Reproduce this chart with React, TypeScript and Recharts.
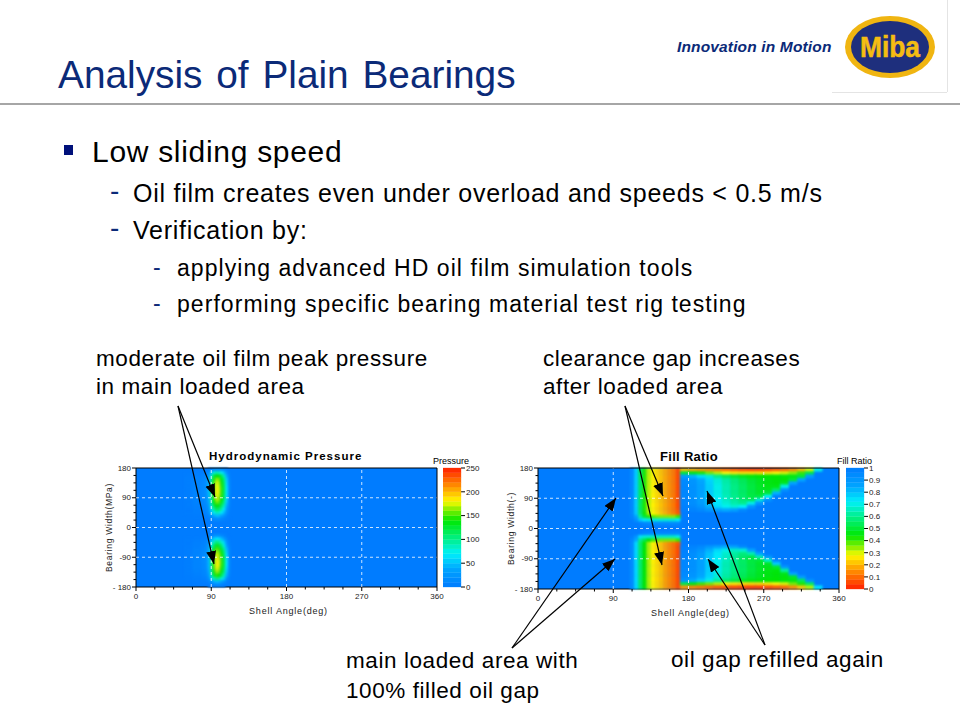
import React from 'react';
import { ScatterChart, Scatter, XAxis, YAxis, CartesianGrid, ReferenceLine } from 'recharts';

// bearing maps. cell edges are degrees of shell angle, rows are band centres of width.
const angleTicks = [0, 22.5, 45, 67.5, 90, 112.5, 135, 157.5, 180, 202.5, 225, 247.5, 270, 292.5, 315, 337.5, 360];
const widthTicks = [-180, -157.5, -135, -112.5, -90, -67.5, -45, -22.5, 0, 22.5, 45, 67.5, 90, 112.5, 135, 157.5, 180];
const gridAngles = [90, 180, 270];
const gridWidths = [-90, 0, 90];

const pressureEdges = [58, 68, 78, 83, 86, 89, 92, 95, 98, 101, 104, 107, 110, 113, 116];
const pressureRows = [175, 165, 155, 145, 135, 125, 115, 105, 95, 85, 75, 65, 55, 45, 35, 25, -25, -35, -45, -55, -65, -75, -85, -95, -105, -115, -125, -135, -145, -155, -165, -175];
const pressureValues = [
  [0, 0, 0, 0, 3, 10, 18, 22, 20, 16, 10, 4, 0, 0],
  [1, 2, 3, 6, 20, 52, 80, 90, 86, 72, 52, 24, 4, 0],
  [2, 4, 7, 13, 32, 84, 125, 140, 136, 115, 88, 44, 8, 0],
  [3, 6, 10, 17, 40, 98, 145, 165, 158, 135, 105, 56, 12, 0],
  [3, 7, 12, 21, 44, 106, 152, 175, 168, 142, 112, 62, 14, 0],
  [3, 8, 13, 22, 46, 110, 156, 180, 172, 146, 116, 66, 15, 0],
  [3, 8, 14, 23, 48, 112, 158, 182, 174, 148, 118, 68, 16, 0],
  [3, 8, 14, 23, 48, 112, 158, 182, 174, 148, 118, 68, 16, 0],
  [3, 8, 14, 23, 46, 108, 154, 178, 170, 146, 116, 66, 15, 0],
  [3, 7, 13, 21, 44, 102, 148, 170, 164, 140, 110, 62, 14, 0],
  [2, 6, 11, 18, 40, 94, 138, 158, 152, 130, 100, 54, 12, 0],
  [2, 5, 9, 15, 34, 82, 122, 140, 134, 114, 86, 44, 9, 0],
  [1, 4, 7, 11, 26, 66, 100, 116, 112, 94, 68, 32, 6, 0],
  [1, 3, 5, 8, 20, 48, 74, 88, 84, 68, 48, 22, 4, 0],
  [0, 1, 3, 5, 10, 26, 42, 50, 48, 38, 24, 10, 1, 0],
  [0, 0, 1, 2, 3, 8, 12, 15, 14, 10, 5, 2, 0, 0],
  [0, 0, 1, 2, 4, 10, 17, 22, 20, 14, 7, 2, 0, 0],
  [1, 2, 3, 6, 14, 38, 58, 68, 64, 50, 32, 13, 1, 0],
  [1, 4, 6, 10, 24, 60, 90, 104, 100, 82, 58, 26, 4, 0],
  [2, 5, 8, 14, 32, 76, 114, 132, 126, 106, 78, 38, 7, 0],
  [2, 6, 10, 17, 38, 90, 132, 152, 146, 124, 94, 50, 11, 0],
  [3, 7, 12, 19, 42, 100, 146, 168, 160, 136, 106, 58, 13, 0],
  [3, 8, 13, 21, 46, 106, 152, 176, 168, 144, 114, 64, 15, 0],
  [3, 8, 14, 22, 48, 110, 156, 180, 172, 148, 118, 68, 16, 0],
  [3, 8, 14, 22, 48, 112, 158, 184, 176, 150, 120, 70, 16, 0],
  [3, 8, 13, 21, 46, 110, 156, 182, 174, 148, 118, 68, 15, 0],
  [3, 7, 12, 20, 44, 106, 152, 176, 168, 144, 112, 62, 14, 0],
  [3, 6, 10, 16, 40, 98, 144, 166, 158, 134, 104, 56, 12, 0],
  [2, 4, 8, 13, 32, 86, 128, 148, 140, 116, 88, 44, 9, 0],
  [1, 3, 5, 8, 20, 56, 88, 104, 98, 80, 56, 24, 4, 0],
  [0, 1, 2, 3, 8, 24, 40, 48, 44, 34, 20, 7, 1, 0],
  [0, 0, 0, 0, 1, 4, 8, 10, 9, 6, 2, 0, 0, 0],
];

const loadedEdges = [110, 115, 120, 125, 130, 135, 140, 145, 150, 155, 160, 165, 170];
const loadedRows = [175, 165, 155, 145, 135, 125, 115, 105, 95, 85, 75, 65, 55, 45, 35, 25, 15, -15, -25, -35, -45, -55, -65, -75, -85, -95, -105, -115, -125, -135, -145, -155, -165, -175];
const loadedValues = [
  [95, 78, 55, 42, 32, 27, 24, 21, 18, 15, 12, 6],
  [95, 78, 55, 42, 32, 27, 24, 21, 18, 15, 12, 6],
  [95, 78, 55, 42, 32, 27, 24, 21, 18, 15, 12, 6],
  [95, 78, 55, 42, 32, 27, 24, 21, 18, 15, 12, 6],
  [95, 78, 55, 42, 32, 27, 24, 21, 18, 15, 12, 6],
  [95, 78, 55, 42, 32, 27, 24, 21, 18, 15, 12, 6],
  [95, 78, 55, 42, 32, 27, 24, 21, 18, 15, 12, 6],
  [95, 78, 55, 42, 32, 27, 24, 21, 18, 15, 12, 6],
  [95, 78, 55, 42, 32, 27, 24, 21, 18, 15, 12, 6],
  [95, 78, 55, 42, 32, 27, 24, 21, 18, 15, 12, 6],
  [95, 78, 55, 42, 32, 27, 24, 21, 18, 15, 12, 6],
  [95, 78, 55, 42, 32, 27, 24, 21, 18, 15, 12, 6],
  [95, 78, 55, 42, 32, 27, 24, 21, 18, 15, 12, 7],
  [95, 79, 56, 43, 33, 28, 25, 22, 19, 16, 13, 8],
  [96, 85, 62, 50, 42, 38, 36, 35, 35, 35, 35, 40],
  [99, 92, 78, 72, 70, 68, 68, 68, 68, 68, 68, 72],
  [100, 100, 98, 96, 95, 95, 95, 95, 95, 95, 95, 95],
  [100, 100, 98, 96, 95, 95, 95, 95, 95, 95, 95, 95],
  [98, 90, 74, 68, 68, 66, 66, 66, 66, 66, 66, 70],
  [95, 84, 60, 52, 44, 40, 38, 36, 36, 36, 36, 40],
  [94, 76, 56, 44, 33, 27, 24, 21, 17, 14, 11, 7],
  [94, 76, 56, 44, 33, 27, 24, 21, 17, 14, 11, 6],
  [94, 76, 56, 44, 33, 27, 24, 21, 17, 14, 11, 6],
  [94, 76, 56, 44, 33, 27, 24, 21, 17, 14, 11, 6],
  [94, 76, 56, 44, 33, 27, 24, 21, 17, 14, 11, 6],
  [94, 76, 56, 44, 33, 27, 24, 21, 17, 14, 11, 6],
  [94, 76, 56, 44, 33, 27, 24, 21, 17, 14, 11, 6],
  [94, 76, 56, 44, 33, 27, 24, 21, 17, 14, 11, 6],
  [94, 76, 56, 44, 33, 27, 24, 21, 17, 14, 11, 6],
  [94, 76, 56, 44, 33, 27, 24, 21, 17, 14, 11, 6],
  [94, 76, 56, 44, 33, 27, 24, 21, 17, 14, 11, 6],
  [94, 76, 56, 44, 33, 27, 24, 21, 17, 14, 11, 6],
  [94, 76, 56, 44, 33, 27, 24, 21, 17, 14, 11, 6],
  [94, 76, 56, 44, 33, 27, 24, 21, 17, 14, 11, 6],
];

const refillEdges = [170, 180, 190, 200, 210, 220, 230, 240, 250, 260, 270, 280, 290, 300, 310, 320, 330, 340];
const refillRows = [175, 165, 155, 145, 135, 125, 115, 105, 95, 85, 75, 65, 55, -55, -65, -75, -85, -95, -105, -115, -125, -135, -145, -155, -165, -175];
const refillValues = [
  [20, 18, 16, 14, 12, 10, 8, 6, 5, 5, 6, 8, 10, 14, 20, 30, 70],
  [50, 46, 42, 36, 32, 28, 26, 25, 25, 25, 26, 28, 30, 34, 40, 52, 100],
  [88, 82, 75, 68, 60, 54, 50, 47, 45, 44, 44, 44, 45, 46, 50, 88, 100],
  [94, 90, 84, 76, 68, 62, 57, 53, 49, 47, 45, 44, 44, 50, 85, 100, 100],
  [95, 91, 85, 77, 69, 63, 58, 54, 50, 47, 45, 44, 47, 85, 100, 100, 100],
  [96, 92, 86, 78, 70, 64, 59, 55, 51, 48, 46, 46, 70, 100, 100, 100, 100],
  [96, 92, 86, 78, 70, 64, 59, 55, 51, 48, 47, 55, 92, 100, 100, 100, 100],
  [96, 92, 86, 78, 70, 64, 59, 55, 51, 48, 50, 82, 100, 100, 100, 100, 100],
  [96, 92, 86, 78, 71, 65, 60, 56, 52, 52, 72, 98, 100, 100, 100, 100, 100],
  [97, 93, 87, 79, 72, 66, 61, 57, 54, 68, 92, 100, 100, 100, 100, 100, 100],
  [97, 93, 88, 80, 73, 68, 63, 60, 70, 90, 100, 100, 100, 100, 100, 100, 100],
  [98, 95, 91, 83, 76, 71, 68, 72, 90, 100, 100, 100, 100, 100, 100, 100, 100],
  [99, 97, 95, 90, 86, 84, 86, 95, 100, 100, 100, 100, 100, 100, 100, 100, 100],
  [99, 97, 95, 90, 86, 84, 86, 95, 100, 100, 100, 100, 100, 100, 100, 100, 100],
  [98, 95, 91, 83, 76, 70, 66, 68, 86, 100, 100, 100, 100, 100, 100, 100, 100],
  [97, 93, 88, 80, 73, 67, 62, 58, 64, 86, 100, 100, 100, 100, 100, 100, 100],
  [97, 93, 87, 79, 72, 66, 61, 56, 52, 64, 90, 100, 100, 100, 100, 100, 100],
  [96, 92, 86, 78, 71, 65, 60, 55, 51, 50, 66, 96, 100, 100, 100, 100, 100],
  [96, 92, 86, 78, 70, 64, 59, 55, 51, 48, 48, 78, 100, 100, 100, 100, 100],
  [96, 92, 86, 78, 70, 64, 59, 55, 51, 48, 46, 50, 90, 100, 100, 100, 100],
  [96, 92, 86, 78, 70, 64, 59, 55, 51, 48, 46, 45, 62, 100, 100, 100, 100],
  [95, 91, 85, 77, 69, 63, 58, 54, 50, 47, 45, 44, 46, 85, 100, 100, 100],
  [94, 90, 84, 76, 68, 62, 57, 53, 49, 47, 45, 44, 44, 48, 88, 100, 100],
  [90, 84, 78, 70, 62, 56, 52, 48, 46, 45, 44, 44, 45, 46, 54, 92, 100],
  [52, 46, 40, 36, 32, 28, 26, 25, 24, 24, 26, 28, 30, 36, 42, 55, 100],
  [16, 14, 12, 10, 8, 7, 6, 5, 4, 4, 6, 8, 10, 15, 22, 32, 74],
];

const pressureLevels = [5, 15, 25, 35, 45, 55, 65, 75, 85, 95, 105, 115, 125, 135, 145, 155, 165, 175, 185, 195, 205, 215, 225, 235, 245];
const pressureTicks = [0, 50, 100, 150, 200, 250];
const fillLevels = [0.02, 0.06, 0.1, 0.14, 0.18, 0.22, 0.26, 0.3, 0.34, 0.38, 0.42, 0.46, 0.5, 0.54, 0.58, 0.62, 0.66, 0.7, 0.74, 0.78, 0.82, 0.86, 0.9, 0.94, 0.98];
const fillTicks = [0, 0.1, 0.2, 0.3, 0.4, 0.5, 0.6, 0.7, 0.8, 0.9, 1];

const colorStops: [number, number[]][] = [
  [0, [0, 124, 255]],
  [0.15, [0, 165, 255]],
  [0.28, [0, 240, 250]],
  [0.4, [0, 240, 140]],
  [0.56, [0, 232, 0]],
  [0.66, [150, 240, 0]],
  [0.72, [255, 250, 0]],
  [0.84, [255, 150, 0]],
  [1, [255, 30, 0]],
];

const heatColor = (t: number) => {
  const v = Math.min(1, Math.max(0, t));
  for (let i = 1; i < colorStops.length; i++) {
    const [t0, c0] = colorStops[i - 1];
    const [t1, c1] = colorStops[i];
    if (v <= t1) {
      const f = (v - t0) / (t1 - t0);
      return `rgb(${c0.map((c, k) => Math.round(c + (c1[k] - c) * f)).join(',')})`;
    }
  }
  return 'rgb(255,30,0)';
};

const toCells = (edges: number[], rows: number[], values: number[][], skip: number) =>
  rows.flatMap((lat, r) =>
    values[r].flatMap((value, c) =>
      value === skip
        ? []
        : [{ angle: (edges[c] + edges[c + 1]) / 2, lat, value, span: edges[c + 1] - edges[c] }]
    )
  );

const pressureCells = toCells(pressureEdges, pressureRows, pressureValues, 0);
const fillCells = [
  ...toCells(loadedEdges, loadedRows, loadedValues, 100),
  ...toCells(refillEdges, refillRows, refillValues, 100),
];

const FONT = '"Liberation Sans", Arial, sans-serif';
const NAVY = '#0b2a78';

const AngleTick = ({ x, y, payload }: any) => {
  const major = payload.value % 90 === 0;
  return (
    <g>
      <line x1={x} x2={x} y1={y} y2={y + (major ? 4 : 2.5)} stroke="#000" />
      {major && (
        <text x={x} y={y + 12} textAnchor="middle" fontSize={8} fontFamily={FONT} fill="#222">
          {payload.value}
        </text>
      )}
    </g>
  );
};

const WidthTick = ({ x, y, payload }: any) => {
  const major = payload.value % 90 === 0;
  const label = payload.value === -180 ? '- 180' : String(payload.value);
  return (
    <g>
      <line x1={x} x2={x - (major ? 4 : 2.5)} y1={y} y2={y} stroke="#000" />
      {major && (
        <text x={x - 5} y={y + 2.5} textAnchor="end" fontSize={8} fontFamily={FONT} fill="#222">
          {label}
        </text>
      )}
    </g>
  );
};

type MapProps = {
  left: number; top: number; plotW: number; plotH: number;
  cells: { angle: number; lat: number; value: number; span: number }[];
  toT: (v: number) => number;
  yLabel: string;
};

const BearingMap = ({ left, top, plotW, plotH, cells, toT, yLabel }: MapProps) => {
  const sx = plotW / 360;
  const sy = plotH / 360;
  return (
    <div style={{ position: 'absolute', left: left - 46, top: top - 18 }}>
      <ScatterChart
        width={plotW + 60}
        height={plotH + 60}
        margin={{ top: 18, right: 14, bottom: 12, left: 10 }}
      >
        <CartesianGrid fill="#007cff" stroke="none" />
        <XAxis
          type="number"
          dataKey="angle"
          domain={[0, 360]}
          ticks={angleTicks}
          interval={0}
          height={30}
          tickSize={0}
          tickMargin={0}
          tickLine={false}
          tick={<AngleTick />}
          stroke="#000"
          label={{ value: 'Shell Angle(deg)', position: 'insideBottom', offset: 3, dx: 2, fontSize: 9, letterSpacing: 0.8, fontFamily: FONT, fill: '#222' }}
        />
        <YAxis
          type="number"
          dataKey="lat"
          domain={[-180, 180]}
          ticks={widthTicks}
          interval={0}
          width={36}
          tickSize={0}
          tickMargin={0}
          tickLine={false}
          tick={<WidthTick />}
          stroke="#000"
          label={{ value: yLabel, angle: -90, position: 'insideLeft', offset: 9, textAnchor: 'middle', fontSize: 8.5, letterSpacing: 0.7, fontFamily: FONT, fill: '#222' }}
        />
        <Scatter
          data={cells}
          isAnimationActive={false}
          className="heat-cells"
          shape={(p: any) => {
            const w = p.payload.span * sx;
            const h = 10 * sy;
            const color = heatColor(toT(p.payload.value));
            return <rect x={p.cx - w / 2} y={p.cy - h / 2} width={w} height={h} fill={color} stroke={color} strokeWidth={0.3} />;
          }}
        />
        {gridAngles.map((a) => (
          <ReferenceLine key={a} x={a} stroke="#fff" strokeDasharray="3 3" strokeWidth={0.8} zIndex={700} />
        ))}
        {gridWidths.map((w) => (
          <ReferenceLine key={w} y={w} stroke="#fff" strokeDasharray="3 3" strokeWidth={0.8} zIndex={700} />
        ))}
        <ReferenceLine y={180} stroke="#000" zIndex={700} />
        <ReferenceLine x={360} stroke="#000" zIndex={700} />
      </ScatterChart>
    </div>
  );
};

type BarProps = {
  left: number; top: number; barW: number; plotH: number;
  levels: number[]; ticks: number[]; domain: [number, number];
  toT: (v: number) => number;
};

const ScaleBar = ({ left, top, barW, plotH, levels, ticks, domain, toT }: BarProps) => {
  const cellH = plotH / levels.length;
  const data = levels.map((level) => ({ pos: 0.5, level }));
  return (
    <div style={{ position: 'absolute', left, top: top - 6 }}>
      <ScatterChart width={barW + 34} height={plotH + 12} margin={{ top: 6, right: 0, bottom: 6, left: 0 }}>
        <XAxis type="number" dataKey="pos" domain={[0, 1]} hide />
        <YAxis
          type="number"
          dataKey="level"
          orientation="right"
          domain={domain}
          ticks={ticks}
          interval={0}
          width={34}
          axisLine={false}
          tickSize={4}
          tickMargin={1}
          tickLine={{ stroke: '#000' }}
          tick={{ fontSize: 8, fontFamily: FONT, fill: '#222' }}
        />
        <Scatter
          data={data}
          isAnimationActive={false}
          shape={(p: any) => {
            const color = heatColor(toT(p.payload.level));
            return <rect x={p.cx - barW / 2} y={p.cy - cellH / 2} width={barW} height={cellH} fill={color} stroke={color} strokeWidth={0.3} />;
          }}
        />
      </ScatterChart>
    </div>
  );
};

const Txt = ({ x, y, size, children, style }: any) => (
  <div
    style={{
      position: 'absolute', left: x, top: y - size * 0.6, fontSize: size, lineHeight: `${size * 1.2}px`,
      fontFamily: FONT, color: '#000', whiteSpace: 'nowrap', ...style,
    }}
  >
    {children}
  </div>
);

const arrows = [
  [178, 406, 215, 497],
  [178, 406, 214, 564],
  [625, 406, 663, 496],
  [625, 406, 662, 565],
  [512, 648, 616, 498],
  [512, 648, 615, 559],
  [765, 645, 707, 491],
  [765, 645, 708, 559],
];

export default function App() {
  return (
    <div style={{ position: 'absolute', left: 0, top: 0, width: 960, height: 720, background: '#fff', overflow: 'hidden' }}>
      <style>{'.heat-cells{filter:blur(0.9px)}'}</style>

      <Txt x={58} y={75} size={38.8} style={{ color: NAVY, wordSpacing: 3 }}>Analysis of Plain Bearings</Txt>
      <div style={{ position: 'absolute', left: 0, top: 103, width: 960, height: 2, background: '#a6a6a6' }} />
      <div style={{ position: 'absolute', left: 947, top: 0, width: 1, height: 92, background: '#e4e4e4' }} />
      <div style={{ position: 'absolute', left: 832, top: 92, width: 115, height: 1, background: '#e4e4e4' }} />
      <Txt x={677} y={47} size={15.5} style={{ color: NAVY, fontWeight: 700, fontStyle: 'italic', letterSpacing: 0.15 }}>Innovation in Motion</Txt>
      <svg width={110} height={80} style={{ position: 'absolute', left: 835, top: 7 }}>
        <ellipse cx={55} cy={40} rx={45} ry={31} fill="#f0b511" />
        <ellipse cx={55} cy={40} rx={39} ry={26} fill="#1e2f7d" />
        <text x={55} y={50} textAnchor="middle" fontSize={29} fontWeight={700} fontFamily={FONT} fill="#f5bd12" stroke="#f5bd12" strokeWidth={0.5} textLength={60} lengthAdjust="spacingAndGlyphs">
          Miba
        </text>
      </svg>

      <div style={{ position: 'absolute', left: 64, top: 145, width: 9, height: 10, background: '#00107a' }} />
      <Txt x={92} y={152} size={30} style={{ letterSpacing: 0.7 }}>Low sliding speed</Txt>
      <Txt x={110} y={191} size={28} style={{ color: NAVY }}>-</Txt>
      <Txt x={133} y={193} size={25} style={{ letterSpacing: 0.75 }}>Oil film creates even under overload and speeds &lt; 0.5 m/s</Txt>
      <Txt x={110} y={228} size={28} style={{ color: NAVY }}>-</Txt>
      <Txt x={133} y={230} size={25} style={{ letterSpacing: 0.75 }}>Verification by:</Txt>
      <Txt x={153} y={268} size={23} style={{ color: NAVY }}>-</Txt>
      <Txt x={177} y={269} size={23} style={{ letterSpacing: 1.05 }}>applying advanced HD oil film simulation tools</Txt>
      <Txt x={153} y={304} size={23} style={{ color: NAVY }}>-</Txt>
      <Txt x={177} y={305} size={23} style={{ letterSpacing: 1.05 }}>performing specific bearing material test rig testing</Txt>

      <Txt x={96} y={358} size={22.5} style={{ letterSpacing: 0.58 }}>moderate oil film peak pressure</Txt>
      <Txt x={96} y={386} size={22.5} style={{ letterSpacing: 0.58 }}>in main loaded area</Txt>
      <Txt x={543} y={358} size={22.5} style={{ letterSpacing: 0.58 }}>clearance gap increases</Txt>
      <Txt x={543} y={386} size={22.5} style={{ letterSpacing: 0.58 }}>after loaded area</Txt>
      <Txt x={346} y={660} size={22.5} style={{ letterSpacing: 0.58 }}>main loaded area with</Txt>
      <Txt x={346} y={690} size={22.5} style={{ letterSpacing: 0.58 }}>100% filled oil gap</Txt>
      <Txt x={671} y={659} size={22.5} style={{ letterSpacing: 0.58 }}>oil gap refilled again</Txt>

      <Txt x={209} y={457} size={11.5} style={{ fontWeight: 700, letterSpacing: 1 }}>Hydrodynamic Pressure</Txt>
      <Txt x={660} y={457} size={13} style={{ fontWeight: 700, letterSpacing: 0.3 }}>Fill Ratio</Txt>
      <Txt x={433} y={461} size={9}>Pressure</Txt>
      <Txt x={837} y={461} size={9}>Fill Ratio</Txt>

      <BearingMap left={136} top={468} plotW={301} plotH={119} cells={pressureCells} toT={(v) => v / 250} yLabel="Bearing Width(MPa)" />
      <BearingMap left={537.5} top={468} plotW={301} plotH={121} cells={fillCells} toT={(v) => 1 - v / 100} yLabel="Bearing Width(-)" />
      <ScaleBar left={443} top={468} barW={18} plotH={119} levels={pressureLevels} ticks={pressureTicks} domain={[0, 250]} toT={(v) => v / 250} />
      <ScaleBar left={846} top={468} barW={18} plotH={121} levels={fillLevels} ticks={fillTicks} domain={[0, 1]} toT={(v) => 1 - v} />

      <svg width={960} height={720} style={{ position: 'absolute', left: 0, top: 0, pointerEvents: 'none' }}>
        <defs>
          <marker id="head" markerUnits="userSpaceOnUse" markerWidth={14} markerHeight={12} refX={13} refY={5} orient="auto">
            <path d="M0,0 L13,5 L0,10 Z" fill="#000" />
          </marker>
        </defs>
        {arrows.map(([x1, y1, x2, y2], i) => (
          <line key={i} x1={x1} y1={y1} x2={x2} y2={y2} stroke="#000" strokeWidth={1.2} markerEnd="url(#head)" />
        ))}
      </svg>
    </div>
  );
}
